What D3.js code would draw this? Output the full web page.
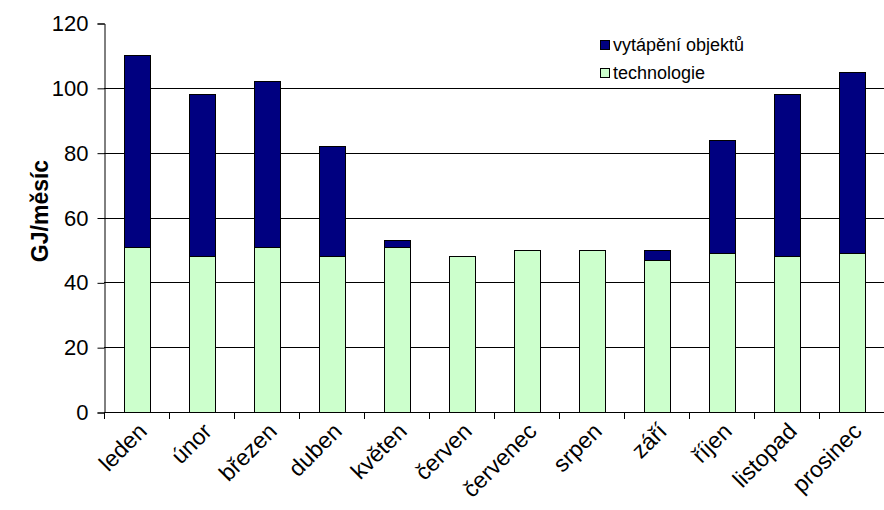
<!DOCTYPE html>
<html>
<head>
<meta charset="utf-8">
<script src="https://cdn.jsdelivr.net/npm/d3@7"></script>
<style>
  html, body { margin: 0; padding: 0; background: #fff; }
  svg { display: block; font-family: "Liberation Sans", Arial, sans-serif; }
</style>
</head>
<body>
<svg id="chart" width="884" height="510"></svg>
<script>
// Monthly heat consumption, GJ per month
const months = ["leden", "únor", "březen", "duben", "květen", "červen",
                "červenec", "srpen", "září", "říjen", "listopad", "prosinec"];
const technologie = [51, 48, 51, 48, 51, 48, 50, 50, 47, 49, 48, 49];
const vytapeni    = [59, 50, 51, 34, 2, 0, 0, 0, 3, 35, 50, 56];
const seriesNames = ["vytápění objektů", "technologie"];
const seriesColors = ["#000080", "#CCFFCC"];
const yTicks = [0, 20, 40, 60, 80, 100, 120];
const yTitle = "GJ/měsíc";

const svg = d3.select("#chart");
const m = { left: 104, right: 0, top: 23, bottom: 98 };
const W = 884, H = 510;
const x0 = m.left, x1 = W - m.right, y0 = H - m.bottom, y1 = m.top;

const x = d3.scaleBand().domain(months).range([x0, x1])
  .paddingInner(0.6).paddingOuter(0.3);
const y = d3.scaleLinear().domain([0, 120]).range([y0, y1]);

const rows = months.map((mo, i) => ({ month: mo, technologie: technologie[i], vytapeni: vytapeni[i] }));
const stack = d3.stack().keys(["technologie", "vytapeni"]);
const layers = stack(rows);
const colorOf = { technologie: seriesColors[1], vytapeni: seriesColors[0] };

// horizontal gridlines
svg.append("g").selectAll("line")
  .data(yTicks.filter(t => t > 0 && t < 120))
  .join("line")
  .attr("x1", x0).attr("x2", x1)
  .attr("y1", d => Math.round(y(d)) + 0.5).attr("y2", d => Math.round(y(d)) + 0.5)
  .attr("stroke", "#000").attr("stroke-width", 1);

// stacked bars
svg.append("g").selectAll("g")
  .data(layers)
  .join("g")
  .attr("fill", d => colorOf[d.key])
  .selectAll("rect")
  .data(d => d.filter(s => s[1] - s[0] > 0))
  .join("rect")
  .attr("x", d => Math.round(x(d.data.month)) + 0.5)
  .attr("width", Math.round(x.bandwidth()))
  .attr("y", d => Math.round(y(d[1])) + 0.5)
  .attr("height", d => Math.round(y(d[0])) - Math.round(y(d[1])))
  .attr("stroke", "#000").attr("stroke-width", 1);

// y axis
const yAxis = d3.axisLeft(y).tickValues(yTicks).tickSize(7).tickPadding(9);
const gy = svg.append("g").attr("transform", `translate(${x0 + 0.5},0.5)`).call(yAxis);
gy.select(".domain").attr("stroke", "#000");
gy.selectAll(".tick line").attr("stroke", "#000");
gy.selectAll(".tick text").attr("font-size", 22).attr("fill", "#000")
  .attr("font-family", "Liberation Sans, Arial, sans-serif");

// x axis: baseline and ticks between categories
const boundaries = d3.range(months.length + 1).map(i => x0 + i * x.step());
svg.append("line")
  .attr("x1", x0).attr("x2", x1)
  .attr("y1", y0 + 0.5).attr("y2", y0 + 0.5)
  .attr("stroke", "#000");
svg.append("g").selectAll("line")
  .data(boundaries)
  .join("line")
  .attr("x1", d => Math.round(d) + 0.5).attr("x2", d => Math.round(d) + 0.5)
  .attr("y1", y0).attr("y2", y0 + 7)
  .attr("stroke", "#000");

// rotated month labels
svg.append("g").selectAll("text")
  .data(months)
  .join("text")
  .attr("transform", d => `translate(${x(d) + x.bandwidth() / 2 + 6},${y0 + 15}) rotate(-45)`)
  .attr("text-anchor", "end")
  .attr("dy", "0.35em")
  .attr("font-size", 23)
  .attr("fill", "#000")
  .text(d => d);

// y-axis title
svg.append("text")
  .attr("transform", `translate(${40},${211}) rotate(-90)`)
  .attr("text-anchor", "middle")
  .attr("dy", "0.35em")
  .attr("font-size", 23)
  .attr("font-weight", "bold")
  .attr("fill", "#000")
  .text(yTitle);

// legend
const lg = svg.append("g").attr("transform", "translate(600,45)");
seriesNames.forEach((name, i) => {
  const row = lg.append("g").attr("transform", `translate(0,${i * 28})`);
  row.append("rect").attr("x", 0.5).attr("y", -4.5).attr("width", 9).attr("height", 9)
    .attr("fill", seriesColors[i]).attr("stroke", "#000");
  row.append("text").attr("x", 13).attr("y", 0).attr("dy", "0.35em")
    .attr("font-size", 18).attr("fill", "#000").text(name);
});
</script>
</body>
</html>
